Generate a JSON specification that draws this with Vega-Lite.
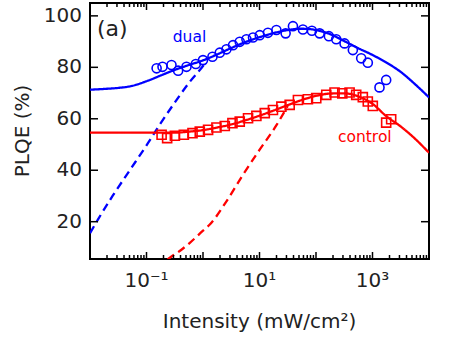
{
  "$schema": "https://vega.github.io/schema/vega-lite/v6.json",
  "width": 339,
  "height": 256,
  "autosize": "none",
  "padding": {"left": 90, "top": 3, "right": 21, "bottom": 78},
  "background": "white",
  "config": {
    "view": {"stroke": "black", "strokeWidth": 2},
    "font": "DejaVu Sans"
  },
  "datasets": {
    "xt": [
      {"v": 0.01, "k": "major"}, {"v": 0.02, "k": "minor"}, {"v": 0.03, "k": "minor"}, {"v": 0.04, "k": "minor"}, {"v": 0.05, "k": "minor"}, {"v": 0.06, "k": "minor"}, {"v": 0.07, "k": "minor"}, {"v": 0.08, "k": "minor"}, {"v": 0.09, "k": "minor"},
      {"v": 0.1, "k": "major"}, {"v": 0.2, "k": "minor"}, {"v": 0.3, "k": "minor"}, {"v": 0.4, "k": "minor"}, {"v": 0.5, "k": "minor"}, {"v": 0.6, "k": "minor"}, {"v": 0.7, "k": "minor"}, {"v": 0.8, "k": "minor"}, {"v": 0.9, "k": "minor"},
      {"v": 1, "k": "major"}, {"v": 2, "k": "minor"}, {"v": 3, "k": "minor"}, {"v": 4, "k": "minor"}, {"v": 5, "k": "minor"}, {"v": 6, "k": "minor"}, {"v": 7, "k": "minor"}, {"v": 8, "k": "minor"}, {"v": 9, "k": "minor"},
      {"v": 10, "k": "major"}, {"v": 20, "k": "minor"}, {"v": 30, "k": "minor"}, {"v": 40, "k": "minor"}, {"v": 50, "k": "minor"}, {"v": 60, "k": "minor"}, {"v": 70, "k": "minor"}, {"v": 80, "k": "minor"}, {"v": 90, "k": "minor"},
      {"v": 100, "k": "major"}, {"v": 200, "k": "minor"}, {"v": 300, "k": "minor"}, {"v": 400, "k": "minor"}, {"v": 500, "k": "minor"}, {"v": 600, "k": "minor"}, {"v": 700, "k": "minor"}, {"v": 800, "k": "minor"}, {"v": 900, "k": "minor"},
      {"v": 1000, "k": "major"}, {"v": 2000, "k": "minor"}, {"v": 3000, "k": "minor"}, {"v": 4000, "k": "minor"}, {"v": 5000, "k": "minor"}, {"v": 6000, "k": "minor"}, {"v": 7000, "k": "minor"}, {"v": 8000, "k": "minor"}, {"v": 9000, "k": "minor"},
      {"v": 10000, "k": "major"}
    ],
    "yt": [{"v": 20}, {"v": 40}, {"v": 60}, {"v": 80}, {"v": 100}],
    "xl": [{"v": 0.1, "lab": "10⁻¹"}, {"v": 10, "lab": "10¹"}, {"v": 1000, "lab": "10³"}],
    "titles": [{"t": "Intensity (mW/cm²)", "k": "x"}, {"t": "PLQE (%)", "k": "y"}],
    "curves": [
      {"x": 0.01, "y": 71.3, "s": "dual", "kind": "fit"},
      {"x": 0.01778, "y": 71.6, "s": "dual", "kind": "fit"},
      {"x": 0.03162, "y": 72.0, "s": "dual", "kind": "fit"},
      {"x": 0.05623, "y": 72.8, "s": "dual", "kind": "fit"},
      {"x": 0.1, "y": 74.6, "s": "dual", "kind": "fit"},
      {"x": 0.1778, "y": 76.8, "s": "dual", "kind": "fit"},
      {"x": 0.3162, "y": 79.0, "s": "dual", "kind": "fit"},
      {"x": 0.5623, "y": 80.9, "s": "dual", "kind": "fit"},
      {"x": 1, "y": 82.7, "s": "dual", "kind": "fit"},
      {"x": 1.778, "y": 85.0, "s": "dual", "kind": "fit"},
      {"x": 3.162, "y": 87.5, "s": "dual", "kind": "fit"},
      {"x": 5.623, "y": 89.8, "s": "dual", "kind": "fit"},
      {"x": 10, "y": 91.7, "s": "dual", "kind": "fit"},
      {"x": 17.78, "y": 93.3, "s": "dual", "kind": "fit"},
      {"x": 31.62, "y": 94.5, "s": "dual", "kind": "fit"},
      {"x": 56.23, "y": 95.0, "s": "dual", "kind": "fit"},
      {"x": 100, "y": 94.5, "s": "dual", "kind": "fit"},
      {"x": 177.8, "y": 92.9, "s": "dual", "kind": "fit"},
      {"x": 316.2, "y": 90.2, "s": "dual", "kind": "fit"},
      {"x": 562.3, "y": 87.4, "s": "dual", "kind": "fit"},
      {"x": 1000, "y": 84.8, "s": "dual", "kind": "fit"},
      {"x": 1778, "y": 81.8, "s": "dual", "kind": "fit"},
      {"x": 3162, "y": 78.2, "s": "dual", "kind": "fit"},
      {"x": 5623, "y": 73.5, "s": "dual", "kind": "fit"},
      {"x": 10000, "y": 68.3, "s": "dual", "kind": "fit"},
      {"x": 0.01, "y": 15.5, "s": "dual", "kind": "model"},
      {"x": 0.0138, "y": 20.8, "s": "dual", "kind": "model"},
      {"x": 0.0251, "y": 30.0, "s": "dual", "kind": "model"},
      {"x": 0.0468, "y": 38.9, "s": "dual", "kind": "model"},
      {"x": 0.106, "y": 50.5, "s": "dual", "kind": "model"},
      {"x": 0.17, "y": 57.6, "s": "dual", "kind": "model"},
      {"x": 0.296, "y": 65.4, "s": "dual", "kind": "model"},
      {"x": 0.585, "y": 74.4, "s": "dual", "kind": "model"},
      {"x": 1, "y": 80.5, "s": "dual", "kind": "model"},
      {"x": 1.12, "y": 82.0, "s": "dual", "kind": "model"},
      {"x": 0.01, "y": 54.6, "s": "control", "kind": "fit"},
      {"x": 0.03162, "y": 54.6, "s": "control", "kind": "fit"},
      {"x": 0.1, "y": 54.6, "s": "control", "kind": "fit"},
      {"x": 0.1778, "y": 54.6, "s": "control", "kind": "fit"},
      {"x": 0.3162, "y": 54.6, "s": "control", "kind": "fit"},
      {"x": 0.5623, "y": 55.0, "s": "control", "kind": "fit"},
      {"x": 1, "y": 55.6, "s": "control", "kind": "fit"},
      {"x": 1.778, "y": 56.6, "s": "control", "kind": "fit"},
      {"x": 3.162, "y": 57.8, "s": "control", "kind": "fit"},
      {"x": 5.623, "y": 59.4, "s": "control", "kind": "fit"},
      {"x": 10, "y": 61.2, "s": "control", "kind": "fit"},
      {"x": 17.78, "y": 63.2, "s": "control", "kind": "fit"},
      {"x": 31.62, "y": 65.3, "s": "control", "kind": "fit"},
      {"x": 56.23, "y": 67.3, "s": "control", "kind": "fit"},
      {"x": 100, "y": 68.9, "s": "control", "kind": "fit"},
      {"x": 177.8, "y": 69.8, "s": "control", "kind": "fit"},
      {"x": 316.2, "y": 69.9, "s": "control", "kind": "fit"},
      {"x": 562.3, "y": 68.7, "s": "control", "kind": "fit"},
      {"x": 1000, "y": 65.8, "s": "control", "kind": "fit"},
      {"x": 1778, "y": 60.9, "s": "control", "kind": "fit"},
      {"x": 3162, "y": 57.0, "s": "control", "kind": "fit"},
      {"x": 5623, "y": 52.3, "s": "control", "kind": "fit"},
      {"x": 10000, "y": 46.8, "s": "control", "kind": "fit"},
      {"x": 0.158, "y": 2.0, "s": "control", "kind": "model"},
      {"x": 0.259, "y": 6.0, "s": "control", "kind": "model"},
      {"x": 0.398, "y": 8.8, "s": "control", "kind": "model"},
      {"x": 0.585, "y": 11.8, "s": "control", "kind": "model"},
      {"x": 1, "y": 16.5, "s": "control", "kind": "model"},
      {"x": 1.318, "y": 18.9, "s": "control", "kind": "model"},
      {"x": 2.6, "y": 27.9, "s": "control", "kind": "model"},
      {"x": 5.12, "y": 38.3, "s": "control", "kind": "model"},
      {"x": 10, "y": 47.9, "s": "control", "kind": "model"},
      {"x": 19.95, "y": 57.5, "s": "control", "kind": "model"},
      {"x": 31.6, "y": 65.0, "s": "control", "kind": "model"}
    ],
    "pts": [
      {"x": 0.151, "y": 79.6, "s": "dual"},
      {"x": 0.192, "y": 80.2, "s": "dual"},
      {"x": 0.277, "y": 80.9, "s": "dual"},
      {"x": 0.363, "y": 78.7, "s": "dual"},
      {"x": 0.51, "y": 80.2, "s": "dual"},
      {"x": 0.746, "y": 81.3, "s": "dual"},
      {"x": 1.0, "y": 82.8, "s": "dual"},
      {"x": 1.47, "y": 84.1, "s": "dual"},
      {"x": 1.98, "y": 85.7, "s": "dual"},
      {"x": 2.6, "y": 87.0, "s": "dual"},
      {"x": 3.4, "y": 88.6, "s": "dual"},
      {"x": 4.47, "y": 89.9, "s": "dual"},
      {"x": 5.87, "y": 90.9, "s": "dual"},
      {"x": 7.68, "y": 91.6, "s": "dual"},
      {"x": 10.1, "y": 92.5, "s": "dual"},
      {"x": 14.1, "y": 93.4, "s": "dual"},
      {"x": 19.9, "y": 94.5, "s": "dual"},
      {"x": 29.0, "y": 93.2, "s": "dual"},
      {"x": 39.1, "y": 96.0, "s": "dual"},
      {"x": 58.7, "y": 94.7, "s": "dual"},
      {"x": 84.7, "y": 94.2, "s": "dual"},
      {"x": 116, "y": 93.2, "s": "dual"},
      {"x": 169, "y": 92.1, "s": "dual"},
      {"x": 228, "y": 90.9, "s": "dual"},
      {"x": 320, "y": 89.3, "s": "dual"},
      {"x": 449, "y": 86.7, "s": "dual"},
      {"x": 631, "y": 83.5, "s": "dual"},
      {"x": 826, "y": 81.8, "s": "dual"},
      {"x": 1330, "y": 72.2, "s": "dual"},
      {"x": 1746, "y": 75.1, "s": "dual"},
      {"x": 0.185, "y": 53.8, "s": "control"},
      {"x": 0.232, "y": 52.5, "s": "control"},
      {"x": 0.318, "y": 53.4, "s": "control"},
      {"x": 0.458, "y": 53.8, "s": "control"},
      {"x": 0.652, "y": 54.4, "s": "control"},
      {"x": 0.877, "y": 55.0, "s": "control"},
      {"x": 1.23, "y": 55.7, "s": "control"},
      {"x": 1.73, "y": 56.6, "s": "control"},
      {"x": 2.43, "y": 57.2, "s": "control"},
      {"x": 3.32, "y": 58.3, "s": "control"},
      {"x": 4.47, "y": 58.9, "s": "control"},
      {"x": 6.27, "y": 60.2, "s": "control"},
      {"x": 8.81, "y": 61.1, "s": "control"},
      {"x": 12.4, "y": 62.2, "s": "control"},
      {"x": 17.3, "y": 63.4, "s": "control"},
      {"x": 24.4, "y": 64.7, "s": "control"},
      {"x": 34.2, "y": 65.4, "s": "control"},
      {"x": 47.9, "y": 67.3, "s": "control"},
      {"x": 71.9, "y": 67.6, "s": "control"},
      {"x": 101, "y": 68.0, "s": "control"},
      {"x": 152, "y": 69.3, "s": "control"},
      {"x": 213, "y": 70.2, "s": "control"},
      {"x": 292, "y": 69.9, "s": "control"},
      {"x": 393, "y": 70.2, "s": "control"},
      {"x": 515, "y": 69.3, "s": "control"},
      {"x": 674, "y": 68.4, "s": "control"},
      {"x": 826, "y": 66.7, "s": "control"},
      {"x": 1012, "y": 65.0, "s": "control"},
      {"x": 1746, "y": 58.5, "s": "control"},
      {"x": 2140, "y": 59.8, "s": "control"}
    ],
    "labels": [
      {"x": 0.0133, "y": 95.0, "t": "(a)", "s": "panel"},
      {"x": 0.577, "y": 89.9, "t": "dual", "s": "dual"},
      {"x": 731, "y": 50.8, "t": "control", "s": "control"}
    ]
  },
  "layer": [
    {
      "data": {"name": "curves"},
      "mark": {"type": "line", "strokeWidth": 2.3, "clip": true, "interpolate": "monotone"},
      "encoding": {
        "x": {"field": "x", "type": "quantitative", "scale": {"type": "log", "domain": [0.01, 10000], "nice": false}, "axis": null},
        "y": {"field": "y", "type": "quantitative", "scale": {"domain": [5.5, 105], "nice": false, "zero": false}, "axis": null},
        "color": {"field": "s", "type": "nominal", "scale": {"domain": ["dual", "control"], "range": ["#0000ff", "#ff0000"]}, "legend": null},
        "strokeDash": {"field": "kind", "type": "nominal", "scale": {"domain": ["fit", "model"], "range": [[1, 0], [8, 5]]}, "legend": null}
      }
    },
    {
      "data": {"name": "xt"},
      "transform": [{"filter": "datum.k=='major'"}],
      "mark": {"type": "rule", "color": "black", "strokeWidth": 1.5, "y2Offset": -7},
      "encoding": {
        "x": {"field": "v", "type": "quantitative", "axis": null},
        "y": {"datum": 5.5, "axis": null},
        "y2": {"datum": 5.5}
      }
    },
    {
      "data": {"name": "xt"},
      "transform": [{"filter": "datum.k=='minor'"}],
      "mark": {"type": "rule", "color": "black", "strokeWidth": 1.5, "y2Offset": -4},
      "encoding": {
        "x": {"field": "v", "type": "quantitative", "axis": null},
        "y": {"datum": 5.5, "axis": null},
        "y2": {"datum": 5.5}
      }
    },
    {
      "data": {"name": "xt"},
      "transform": [{"filter": "datum.k=='major'"}],
      "mark": {"type": "rule", "color": "black", "strokeWidth": 1.5, "y2Offset": 7},
      "encoding": {
        "x": {"field": "v", "type": "quantitative", "axis": null},
        "y": {"datum": 105, "axis": null},
        "y2": {"datum": 105}
      }
    },
    {
      "data": {"name": "xt"},
      "transform": [{"filter": "datum.k=='minor'"}],
      "mark": {"type": "rule", "color": "black", "strokeWidth": 1.5, "y2Offset": 4},
      "encoding": {
        "x": {"field": "v", "type": "quantitative", "axis": null},
        "y": {"datum": 105, "axis": null},
        "y2": {"datum": 105}
      }
    },
    {
      "data": {"name": "yt"},
      "mark": {"type": "rule", "color": "black", "strokeWidth": 1.5, "x2Offset": 8},
      "encoding": {
        "y": {"field": "v", "type": "quantitative", "axis": null},
        "x": {"datum": 0.01, "axis": null},
        "x2": {"datum": 0.01}
      }
    },
    {
      "data": {"name": "yt"},
      "mark": {"type": "rule", "color": "black", "strokeWidth": 1.5, "x2Offset": -8},
      "encoding": {
        "y": {"field": "v", "type": "quantitative", "axis": null},
        "x": {"datum": 10000, "axis": null},
        "x2": {"datum": 10000}
      }
    },
    {
      "data": {"name": "xl"},
      "mark": {"type": "text", "align": "center", "baseline": "top", "dy": 12, "fontSize": 20, "color": "#222", "font": "DejaVu Sans"},
      "encoding": {
        "x": {"field": "v", "type": "quantitative", "axis": null},
        "y": {"datum": 5.5, "axis": null},
        "text": {"field": "lab"}
      }
    },
    {
      "data": {"name": "yt"},
      "mark": {"type": "text", "align": "right", "baseline": "middle", "dx": -8, "fontSize": 20, "color": "#222", "font": "DejaVu Sans"},
      "encoding": {
        "y": {"field": "v", "type": "quantitative", "axis": null},
        "x": {"datum": 0.01, "axis": null},
        "text": {"field": "v", "type": "quantitative", "format": "d"}
      }
    },
    {
      "data": {"name": "titles"},
      "transform": [{"filter": "datum.k=='x'"}],
      "mark": {"type": "text", "align": "center", "baseline": "alphabetic", "dy": 69, "fontSize": 20, "color": "#222", "font": "DejaVu Sans"},
      "encoding": {
        "x": {"datum": 10, "axis": null},
        "y": {"datum": 5.5, "axis": null},
        "text": {"field": "t"}
      }
    },
    {
      "data": {"name": "titles"},
      "transform": [{"filter": "datum.k=='y'"}],
      "mark": {"type": "text", "align": "center", "baseline": "bottom", "angle": 270, "dy": -57, "fontSize": 20, "color": "#222", "font": "DejaVu Sans"},
      "encoding": {
        "x": {"datum": 0.01, "axis": null},
        "y": {"datum": 55.25, "axis": null},
        "text": {"field": "t"}
      }
    },
    {
      "data": {"name": "pts"},
      "mark": {"type": "point", "filled": false, "strokeWidth": 1.6, "size": 82, "clip": true, "opacity": 1},
      "encoding": {
        "x": {"field": "x", "type": "quantitative", "axis": null},
        "y": {"field": "y", "type": "quantitative", "axis": null},
        "color": {"field": "s", "type": "nominal", "legend": null},
        "shape": {"field": "s", "type": "nominal", "scale": {"domain": ["dual", "control"], "range": ["circle", "square"]}, "legend": null}
      }
    },
    {
      "data": {"name": "labels"},
      "transform": [{"filter": "datum.s=='panel'"}],
      "mark": {"type": "text", "align": "left", "baseline": "middle", "fontSize": 22, "color": "#222", "font": "DejaVu Sans"},
      "encoding": {
        "x": {"field": "x", "type": "quantitative", "axis": null},
        "y": {"field": "y", "type": "quantitative", "axis": null},
        "text": {"field": "t"}
      }
    },
    {
      "data": {"name": "labels"},
      "transform": [{"filter": "datum.s!='panel'"}],
      "mark": {"type": "text", "align": "center", "baseline": "alphabetic", "fontSize": 15.5, "font": "DejaVu Sans"},
      "encoding": {
        "x": {"field": "x", "type": "quantitative", "axis": null},
        "y": {"field": "y", "type": "quantitative", "axis": null},
        "text": {"field": "t"},
        "color": {"field": "s", "type": "nominal", "legend": null}
      }
    }
  ]
}
